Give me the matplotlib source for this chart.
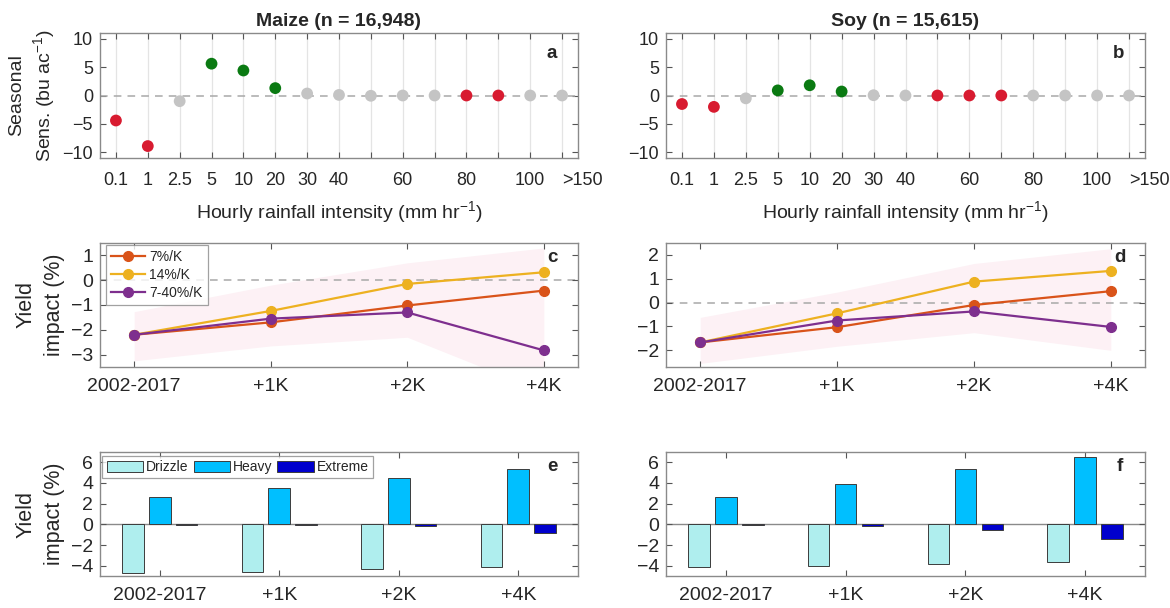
import numpy as np
import matplotlib
matplotlib.use("Agg")
import matplotlib.pyplot as plt

plt.rcParams['font.family'] = ['Liberation Sans', 'DejaVu Sans']
plt.rcParams['mathtext.default'] = 'regular'
plt.rcParams['text.color'] = '#262626'
plt.rcParams['axes.labelcolor'] = '#262626'
plt.rcParams['xtick.color'] = '#555555'
plt.rcParams['ytick.color'] = '#555555'
plt.rcParams['xtick.labelcolor'] = '#262626'
plt.rcParams['ytick.labelcolor'] = '#262626'

# rainfall intensity bins (mm/hr)
bins = ['0.1', '1', '2.5', '5', '10', '20', '30', '40', '50', '60', '70', '80', '90', '100', '>150']
bin_labels = ['0.1', '1', '2.5', '5', '10', '20', '30', '40', '', '60', '', '80', '', '100', '>150']

# seasonal sensitivity (bu/ac) and significance class per bin
maize_sens = [-4.4, -8.9, -1.0, 5.6, 4.4, 1.3, 0.35, 0.1, -0.05, 0.0, 0.0, 0.0, 0.0, 0.0, 0.0]
maize_sig = ['neg', 'neg', 'ns', 'pos', 'pos', 'pos', 'ns', 'ns', 'ns', 'ns', 'ns', 'neg', 'neg', 'ns', 'ns']
soy_sens = [-1.5, -2.0, -0.5, 0.9, 1.8, 0.7, 0.05, 0.0, 0.0, 0.0, 0.0, 0.0, 0.0, 0.0, 0.0]
soy_sig = ['neg', 'neg', 'ns', 'pos', 'pos', 'pos', 'ns', 'ns', 'neg', 'neg', 'neg', 'ns', 'ns', 'ns', 'ns']

# warming scenarios
scenarios = ['2002-2017', '+1K', '+2K', '+4K']
scaling = ['7%/K', '14%/K', '7-40%/K']

maize_impact = {
    '7%/K': [-2.2, -1.7, -1.02, -0.42],
    '14%/K': [-2.2, -1.24, -0.15, 0.32],
    '7-40%/K': [-2.2, -1.55, -1.3, -2.83],
}
maize_band_lo = [-3.25, -2.65, -2.3, -4.5]
maize_band_hi = [-1.27, -0.2, 0.7, 1.3]

soy_impact = {
    '7%/K': [-1.67, -1.03, -0.1, 0.48],
    '14%/K': [-1.67, -0.45, 0.88, 1.33],
    '7-40%/K': [-1.67, -0.75, -0.37, -1.02],
}
soy_band_lo = [-2.55, -1.83, -1.26, -2.0]
soy_band_hi = [-0.62, 0.44, 1.64, 2.26]

# yield impact by rainfall class
classes = ['Drizzle', 'Heavy', 'Extreme']
maize_drizzle = [-4.74, -4.59, -4.36, -4.13]
maize_heavy = [2.67, 3.48, 4.51, 5.38]
maize_extreme = [-0.02, -0.06, -0.16, -0.87]
soy_drizzle = [-4.13, -4.03, -3.87, -3.62]
soy_heavy = [2.67, 3.87, 5.38, 6.52]
soy_extreme = [-0.06, -0.18, -0.55, -1.45]

sig_colors = {'neg': '#d81b30', 'pos': '#0a7a12', 'ns': '#c4c4c4'}
line_colors = {'7%/K': '#d95319', '14%/K': '#edb120', '7-40%/K': '#7e2f8e'}
bar_colors = ['#afeeee', '#00bfff', '#0000cd']

W, H = 1170, 608
fig = plt.figure(figsize=(W / 100, H / 100), dpi=100)


def add_ax(x0, y0, x1, y1):
    return fig.add_axes([x0 / W, 1 - y1 / H, (x1 - x0) / W, (y1 - y0) / H])


def style(ax, size):
    for s in ax.spines.values():
        s.set_color('#8a8a8a')
        s.set_linewidth(1.0)
    ax.tick_params(direction='in', top=True, right=True, length=4, width=0.8,
                   labelsize=size, pad=5)


def yield_label(ax):
    ax.set_ylabel('Yield\nimpact (%)', fontsize=15.5, labelpad=4, linespacing=1.45)


def sens_panel(ax, vals, sig, title, letter, ylabel):
    x = np.arange(len(bins))
    ax.axhline(0, color='#a8a8a8', ls='--', lw=1.1, dashes=(5, 4), zorder=1)
    ax.scatter(x, vals, s=72, c=[sig_colors[k] for k in sig], zorder=3, linewidths=0)
    ax.set_xlim(-0.5, len(bins) - 0.5)
    ax.set_ylim(-11, 11)
    ax.set_yticks([-10, -5, 0, 5, 10])
    ax.set_xticks(x)
    ax.set_xticklabels(bin_labels)
    ax.xaxis.grid(True, color='#e4e4e4', lw=0.9)
    ax.set_axisbelow(True)
    style(ax, 13)
    ax.tick_params(axis='x', pad=10)
    last = ax.get_xticklabels()[-1]
    last.set_horizontalalignment('left')
    last.set_x(len(bins) - 1.15)
    ax.set_title(title, fontsize=14, fontweight='bold', pad=5)
    ax.set_xlabel('Hourly rainfall intensity (mm hr$^{-1}$)', fontsize=14, labelpad=7)
    if ylabel:
        ax.set_ylabel('Seasonal\nSens. (bu ac$^{-1}$)', fontsize=14, labelpad=4,
                      linespacing=1.3)
    ax.text(0.945, 0.84, letter, transform=ax.transAxes, fontsize=13.5,
            fontweight='bold', ha='center', va='center')


def impact_panel(ax, impact, lo, hi, ylim, yticks, letter, ylabel, legend):
    x = np.arange(len(scenarios))
    ax.fill_between(x, lo, hi, color='#fdf1f5', lw=0, zorder=0)
    ax.axhline(0, color='#a8a8a8', ls='--', lw=1.1, dashes=(5, 4), zorder=1)
    for name in scaling:
        ax.plot(x, impact[name], '-o', color=line_colors[name], lw=1.6, ms=7,
                label=name, zorder=3)
    ax.set_xlim(-0.25, 3.25)
    ax.set_ylim(*ylim)
    ax.set_yticks(yticks)
    ax.set_xticks(x)
    ax.set_xticklabels(scenarios)
    style(ax, 14)
    ax.tick_params(axis='x', pad=8)
    if ylabel:
        yield_label(ax)
    if legend:
        leg = ax.legend(loc='upper left', bbox_to_anchor=(0.012, 0.984), fontsize=10,
                        frameon=True, fancybox=False, edgecolor='#8a8a8a',
                        handlelength=2.5, handletextpad=0.3, borderpad=0.35,
                        labelspacing=0.3, borderaxespad=0)
        leg.get_frame().set_linewidth(0.9)
    ax.text(0.947, 0.88, letter, transform=ax.transAxes, fontsize=13.5,
            fontweight='bold', ha='center', va='center')


def bar_panel(ax, dr, hv, ex, letter, ylabel, legend):
    x = np.arange(1, len(scenarios) + 1)
    w = 0.18
    ax.axhline(0, color='#8a8a8a', lw=1.0, zorder=1)
    for off, vals, col, name in zip([-0.225, 0, 0.225], [dr, hv, ex], bar_colors, classes):
        ax.bar(x + off, vals, width=w, color=col, edgecolor='#3c3c3c', lw=0.7,
               label=name, zorder=2)
    ax.set_xlim(0.5, 4.5)
    ax.set_ylim(-5, 7)
    ax.set_yticks([-4, -2, 0, 2, 4, 6])
    ax.set_xticks(x)
    ax.set_xticklabels(scenarios)
    style(ax, 14)
    ax.tick_params(axis='x', pad=8)
    if ylabel:
        yield_label(ax)
    if legend:
        leg = ax.legend(loc='upper left', bbox_to_anchor=(0.005, 0.968), ncol=3,
                        fontsize=10, frameon=True, fancybox=False, edgecolor='#8a8a8a',
                        handlelength=2.6, handleheight=0.85, handletextpad=0.25,
                        columnspacing=0.35, borderpad=0.3, borderaxespad=0)
        leg.get_frame().set_linewidth(0.9)
    ax.text(0.947, 0.88, letter, transform=ax.transAxes, fontsize=13.5,
            fontweight='bold', ha='center', va='center')


ax_a = add_ax(100, 33, 578, 158)
ax_b = add_ax(666, 33, 1145, 158)
ax_c = add_ax(100, 243, 578, 367)
ax_d = add_ax(666, 243, 1145, 367)
ax_e = add_ax(100, 452, 578, 576)
ax_f = add_ax(666, 452, 1145, 576)

sens_panel(ax_a, maize_sens, maize_sig, 'Maize (n = 16,948)', 'a', True)
sens_panel(ax_b, soy_sens, soy_sig, 'Soy (n = 15,615)', 'b', False)
impact_panel(ax_c, maize_impact, maize_band_lo, maize_band_hi, (-3.5, 1.5),
             [-3, -2, -1, 0, 1], 'c', True, True)
impact_panel(ax_d, soy_impact, soy_band_lo, soy_band_hi, (-2.7, 2.5),
             [-2, -1, 0, 1, 2], 'd', False, False)
bar_panel(ax_e, maize_drizzle, maize_heavy, maize_extreme, 'e', True, True)
bar_panel(ax_f, soy_drizzle, soy_heavy, soy_extreme, 'f', False, False)

fig.savefig('out.png', dpi=100, facecolor='white')
